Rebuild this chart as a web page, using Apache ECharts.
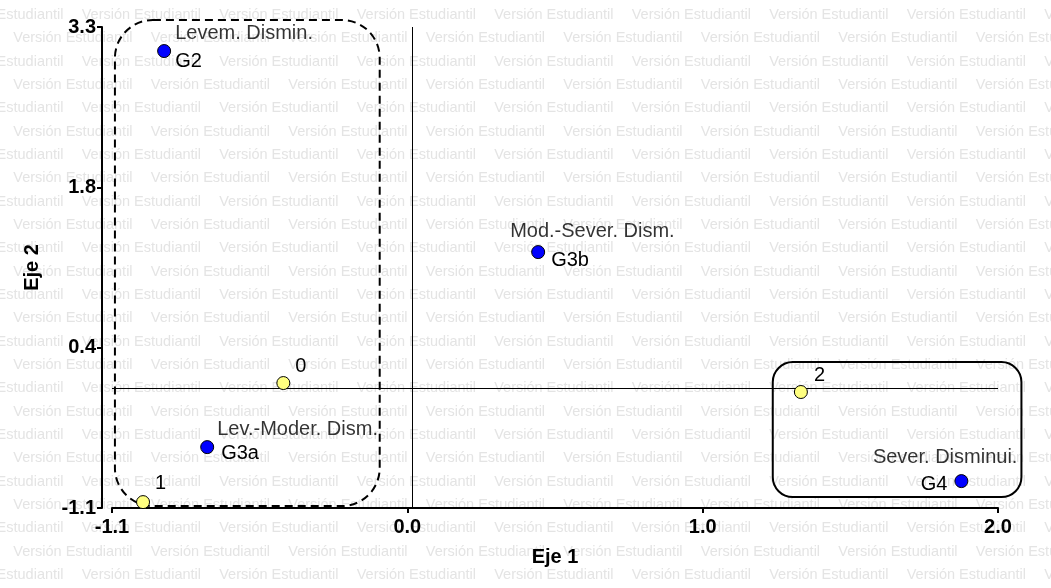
<!DOCTYPE html>
<html>
<head>
<meta charset="utf-8">
<script src="https://cdn.jsdelivr.net/npm/echarts@6/dist/echarts.min.js"></script>
<style>
html,body{margin:0;padding:0;background:#fff;}
#chart{width:1051px;height:588px;}
</style>
</head>
<body>
<div id="chart"></div>
<script>
// ---- data ----
const groupNames = ['G2', 'G3a', 'G3b', 'G4'];
const groupDesc = ['Levem. Dismin.', 'Lev.-Moder. Dism.', 'Mod.-Sever. Dism.', 'Sever. Disminui.'];
const groupX = [-0.847, -0.700, 0.430, 1.875];
const groupY = [3.08, -0.543, 1.241, -0.854];

const catNames = ['0', '1', '2'];
const catX = [-0.440, -0.919, 1.327];
const catY = [0.043, -1.046, -0.039];

const xTicks = [-1.025, -0.0167, 0.9917, 2.0];
const xTickLabels = ['-1.1', '0.0', '1.0', '2.0'];
const yTicks = [-1.1, 0.3667, 1.8333, 3.3];
const yTickLabels = ['-1.1', '0.4', '1.8', '3.3'];

const xName = 'Eje 1';
const yName = 'Eje 2';
const watermark = 'Versión Estudiantil';

// enclosing boxes [x1, yTop, x2, yBottom] in data units
const dashedBox = [-1.015, 3.364, -0.111, -1.082];
const solidBox = [1.231, 0.235, 2.080, -1.0];

// ---- styles (label placement) ----
const nameLabelStyle = [
  { align: 'left', offset: [11, 10] },
  { align: 'left', offset: [14, 6] },
  { align: 'left', offset: [13, 8] },
  { align: 'right', offset: [-14, 3] }
];
const descLabelStyle = [
  { align: 'left', offset: [11, -18] },
  { align: 'left', offset: [10, -18] },
  { align: 'left', offset: [-28, -21] },
  { align: 'right', offset: [56, -24] }
];
const catLabelStyle = [
  { offset: [12, -17] },
  { offset: [12, -19] },
  { offset: [13, -17] }
];

const FONT = '"Liberation Sans", Arial, sans-serif';
const LABEL_SIZE = 20;
const TICK_SIZE = 20;

function lookup(ticks, labels, v) {
  const i = ticks.findIndex(t => Math.abs(t - v) < 1e-3);
  return i >= 0 ? labels[i] : '';
}

// watermark graphics
const wm = [];
for (let r = 0; r < 25; r++) {
  const y = 15 + r * 23.33;
  const x0 = (r % 2 === 0) ? -55.8 : 13.3;
  for (let c = 0; c < 9; c++) {
    wm.push({
      type: 'text', z: -10, silent: true,
      x: x0 + c * 137.5, y: y,
      style: { text: watermark, fill: '#e4e4e4', font: '14.5px ' + FONT, textVerticalAlign: 'middle', textAlign: 'left' }
    });
  }
}

const chart = echarts.init(document.getElementById('chart'), null, { renderer: 'canvas' });

function boxSeries(box, dash, r) {
  return {
    type: 'custom', silent: true, clip: false, z: 3,
    data: [box],
    encode: { x: [0, 2], y: [1, 3] },
    renderItem: function (params, api) {
      const p1 = api.coord([api.value(0), api.value(1)]);
      const p2 = api.coord([api.value(2), api.value(3)]);
      return {
        type: 'rect',
        shape: { x: p1[0], y: p1[1], width: p2[0] - p1[0], height: p2[1] - p1[1], r: r },
        style: { fill: 'none', stroke: '#000', lineWidth: 2, lineDash: dash }
      };
    }
  };
}

const labelText = { color: '#000', fontFamily: FONT, fontSize: LABEL_SIZE };

const option = {
  backgroundColor: '#fff',
  animation: false,
  graphic: { elements: wm },
  grid: { left: 112, right: 53, top: 27, bottom: 80, containLabel: false },
  xAxis: {
    type: 'value', min: -1.025, max: 2.0,
    name: xName, nameLocation: 'middle', nameGap: 39,
    nameTextStyle: { fontFamily: FONT, fontWeight: 'bold', fontSize: TICK_SIZE, color: '#000' },
    axisLine: { show: true, onZero: false, lineStyle: { color: '#000', width: 2 } },
    axisTick: { show: true, length: 5, customValues: xTicks, lineStyle: { color: '#000', width: 2 } },
    axisLabel: { customValues: xTicks, margin: 9, fontFamily: FONT, fontWeight: 'bold', fontSize: TICK_SIZE, color: '#000',
      formatter: v => lookup(xTicks, xTickLabels, v) },
    splitLine: { show: false }
  },
  yAxis: {
    type: 'value', min: -1.1, max: 3.3, offset: 10,
    name: yName, nameLocation: 'middle', nameGap: 60,
    nameTextStyle: { fontFamily: FONT, fontWeight: 'bold', fontSize: TICK_SIZE, color: '#000' },
    axisLine: { show: true, onZero: false, lineStyle: { color: '#000', width: 2 } },
    axisTick: { show: true, length: 5, customValues: yTicks, lineStyle: { color: '#000', width: 2 } },
    axisLabel: { customValues: yTicks, margin: 6, fontFamily: FONT, fontWeight: 'bold', fontSize: TICK_SIZE, color: '#000',
      formatter: v => lookup(yTicks, yTickLabels, v) },
    splitLine: { show: false }
  },
  series: [
    boxSeries(dashedBox, [8, 5], 38),
    boxSeries(solidBox, null, 20),
    {
      name: 'groups', type: 'scatter', symbol: 'circle', symbolSize: 13, z: 5,
      itemStyle: { color: '#0000ff', borderColor: '#000', borderWidth: 1, opacity: 1 },
      data: groupNames.map((n, i) => ({
        name: n, value: [groupX[i], groupY[i]],
        label: Object.assign({ show: true, position: 'inside', verticalAlign: 'middle', formatter: n,
          align: nameLabelStyle[i].align, offset: nameLabelStyle[i].offset }, labelText)
      })),
      markLine: {
        silent: true, symbol: 'none', animation: false,
        label: { show: false },
        lineStyle: { color: '#000', width: 1, type: 'solid' },
        data: [{ xAxis: 0 }, { yAxis: 0 }]
      }
    },
    {
      name: 'groupDesc', type: 'scatter', symbol: 'circle', symbolSize: 13, z: 4, silent: true,
      itemStyle: { color: 'rgba(0,0,0,0)', borderWidth: 0 },
      data: groupNames.map((n, i) => ({
        name: groupDesc[i], value: [groupX[i], groupY[i]],
        label: Object.assign({ show: true, position: 'inside', verticalAlign: 'middle', formatter: groupDesc[i],
          align: descLabelStyle[i].align, offset: descLabelStyle[i].offset }, labelText)
      }))
    },
    {
      name: 'cats', type: 'scatter', symbol: 'circle', symbolSize: 13, z: 5,
      itemStyle: { color: '#ffff80', borderColor: '#000', borderWidth: 1, opacity: 1 },
      data: catNames.map((n, i) => ({
        name: n, value: [catX[i], catY[i]],
        label: Object.assign({ show: true, position: 'inside', verticalAlign: 'middle', align: 'left', formatter: n,
          offset: catLabelStyle[i].offset }, labelText)
      }))
    }
  ]
};
chart.setOption(option);
</script>
</body>
</html>
